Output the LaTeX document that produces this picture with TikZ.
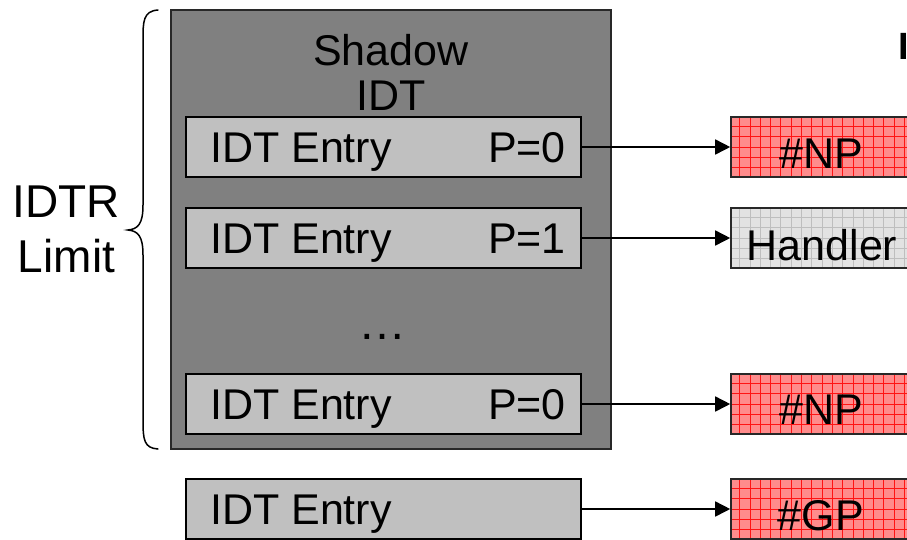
\documentclass[tikz,border=0pt]{standalone}
\usepackage{fontspec}
\setmainfont{Liberation Sans}
\usetikzlibrary{arrows.meta}
\definecolor{outergray}{RGB}{128,128,128}
\definecolor{entrygray}{RGB}{192,192,192}
\definecolor{npfill}{RGB}{255,140,140}
\definecolor{npline}{RGB}{255,20,20}
\definecolor{hfill}{RGB}{226,226,226}
\definecolor{hline}{RGB}{190,190,190}
\definecolor{bordergray}{RGB}{40,40,40}
\tikzset{
  bigtxt/.style={font=\fontsize{43}{45}\selectfont, inner sep=0pt, anchor=base},
  hugetxt/.style={font=\fontsize{46}{50}\selectfont, inner sep=0pt, anchor=base},
  entrybox/.style={draw=black, line width=1.4pt, fill=entrygray, minimum width=395pt, minimum height=60pt, inner sep=0pt, anchor=center},
  tgt/.style={draw=bordergray, line width=1.6pt, minimum width=182pt, minimum height=60pt, inner sep=0pt, anchor=center},
  npbox/.style={tgt, fill=npfill, path picture={\draw[npline, line width=0.7pt, step=10.3pt] (path picture bounding box.south west) grid (path picture bounding box.north east);}},
  handbox/.style={tgt, fill=hfill, path picture={\draw[hline, line width=0.7pt, step=10.3pt] (path picture bounding box.south west) grid (path picture bounding box.north east);}},
  conn/.style={line width=1.6pt, -{Triangle[length=15pt,width=15pt]}},
}
\begin{document}
\begin{tikzpicture}[x=1pt,y=-1pt]
\useasboundingbox (0,0) rectangle (907,539);
\clip (0,0) rectangle (907,539);
\fill[white] (0,0) rectangle (907,539);
% brace
\draw[line width=1.5pt, line cap=round] (158,10) .. controls (143,11) and (143,22) .. (143,40) -- (143,205) .. controls (143,224) and (138,229) .. (128,230) .. controls (138,231) and (143,236) .. (143,255) -- (143,420) .. controls (143,440) and (144,448) .. (158,449);
\node[hugetxt] (idtr) at (66.5,217) {IDTR};
\node[hugetxt] (limit) at (66.5,272) {Limit};
% outer shadow IDT box
\node[draw=bordergray, line width=1.6pt, fill=outergray, minimum width=440pt, minimum height=439pt, inner sep=0pt] (shadow) at (391,229.5) {};
\node[bigtxt] (shadowt1) at (391,65) {Shadow};
\node[bigtxt] (shadowt2) at (391,110) {IDT};
% entries
\node[entrybox] (e1) at (383.5,147) {};
\node[entrybox] (e2) at (383.5,238) {};
\node[entrybox] (e3) at (383.5,404) {};
\node[entrybox] (e4) at (383.5,509) {};
\foreach \n/\yy/\p in {1/147/P=0, 2/238/P=1, 3/404/P=0}{
  \node[bigtxt, anchor=base west] (e\n l) at (210,\yy+15) {IDT Entry};
  \node[bigtxt, anchor=base east] (e\n r) at (566,\yy+15) {\p};
}
\node[bigtxt, anchor=base west] (e4l) at (210,524) {IDT Entry};
\node[font=\fontsize{48}{50}\selectfont, inner sep=0pt, anchor=base] (dots) at (382,339) {…};
% targets
\node[npbox] (t1) at (822,147) {};
\node[handbox] (t2) at (822,238) {};
\node[npbox] (t3) at (822,404) {};
\node[npbox] (t4) at (822,509) {};
\node[bigtxt] (t1t) at (821,168) {\#NP};
\node[bigtxt] (t2t) at (822,260) {Handler};
\node[bigtxt] (t3t) at (821,424) {\#NP};
\node[bigtxt] (t4t) at (821,530) {\#GP};
% connectors
\draw[conn] (e1.east) -- (t1.west);
\draw[conn] (e2.east) -- (t2.west);
\draw[conn] (e3.east) -- (t3.west);
\draw[conn] (e4.east) -- (t4.west);
% partial heading at the right edge
\node[font=\fontsize{38}{40}\selectfont\bfseries, inner sep=0pt, anchor=base west] (head) at (898.5,59) {I};
\end{tikzpicture}
\end{document}
